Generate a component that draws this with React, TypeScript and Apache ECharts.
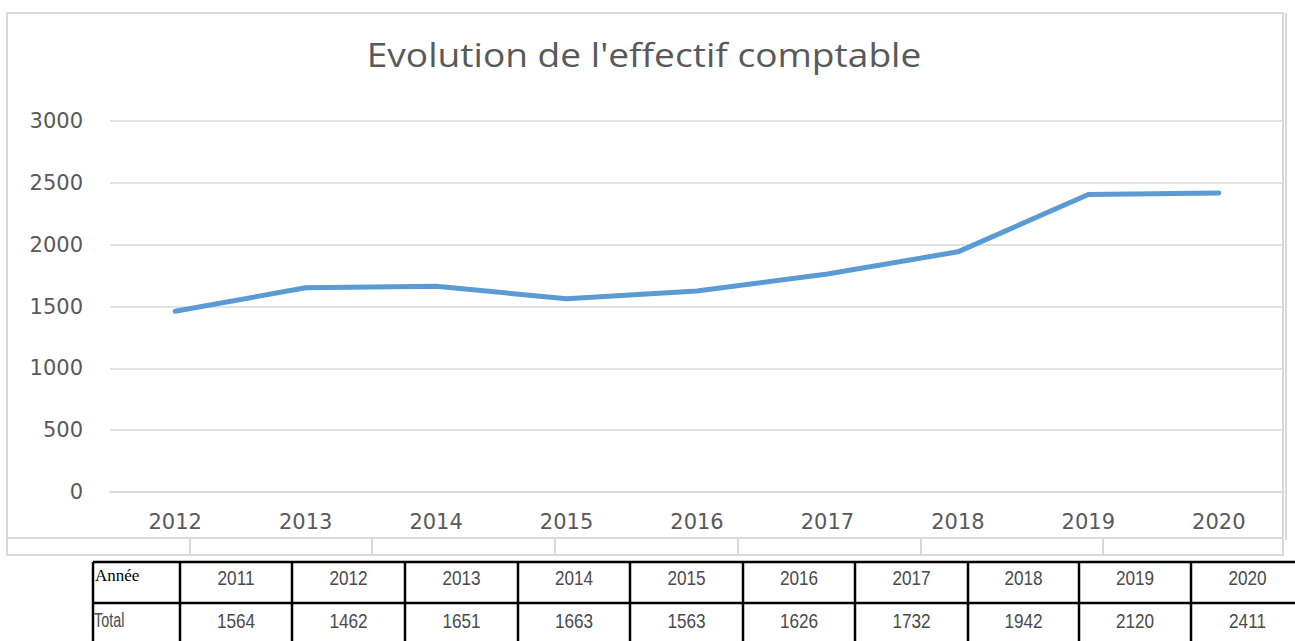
import React, { useEffect, useRef } from "react";
import * as echarts from "echarts";

const categories = ["2012", "2013", "2014", "2015", "2016", "2017", "2018", "2019", "2020"];
const effectif = [1462, 1651, 1663, 1563, 1626, 1763, 1942, 2405, 2418];
const yTicks = { min: 0, max: 3000, interval: 500 };

const tableYears = ["2011", "2012", "2013", "2014", "2015", "2016", "2017", "2018", "2019", "2020"];
const tableTotals = ["1564", "1462", "1651", "1663", "1563", "1626", "1732", "1942", "2120", "2411"];
const tableHeaders = ["Année", "Total"];
const titleText = "Evolution de l'effectif comptable";

const GRAY = "#595959";
const GRID = "#d9d9d9";

export default function App() {
  const ref = useRef<HTMLDivElement>(null);
  useEffect(() => {
    if (!ref.current) return;
    const chart = echarts.init(ref.current, undefined, { renderer: "svg" });

    const graphics: any[] = [];
    // title
    graphics.push({
      type: "text",
      x: 644,
      y: 39,
      scaleX: 1.16,
      style: {
        text: titleText,
        font: '32px "Open Sans", sans-serif',
        fill: GRAY,
        textAlign: "center",
        textVerticalAlign: "top",
      },
    });
    // chart frame
    graphics.push({
      type: "rect",
      shape: { x: 7, y: 13, width: 1276, height: 542 },
      style: { fill: "none", stroke: GRID, lineWidth: 2 },
      silent: true,
    });
    graphics.push({
      type: "line",
      shape: { x1: 1286, y1: 13, x2: 1286, y2: 540 },
      style: { stroke: GRID, lineWidth: 2 },
    });
    graphics.push({
      type: "line",
      shape: { x1: 7, y1: 538, x2: 1283, y2: 538 },
      style: { stroke: GRID, lineWidth: 2 },
    });
    [190, 372, 555, 738, 921, 1103].forEach((x) => {
      graphics.push({
        type: "line",
        shape: { x1: x, y1: 538, x2: x, y2: 555 },
        style: { stroke: GRID, lineWidth: 2 },
      });
    });

    // table
    const colX = [93, 180, 292, 405, 518, 630, 743, 855, 968, 1079, 1191, 1304];
    [562, 603].forEach((y) => {
      graphics.push({
        type: "line",
        shape: { x1: 93, y1: y, x2: 1295, y2: y },
        style: { stroke: "#000", lineWidth: 2.5 },
      });
    });
    colX.forEach((x) => {
      graphics.push({
        type: "line",
        shape: { x1: x, y1: 562, x2: x, y2: 641 },
        style: { stroke: "#000", lineWidth: 2.5 },
      });
    });
    graphics.push({
      type: "text",
      x: 95,
      y: 575,
      style: {
        text: tableHeaders[0],
        font: '17px "Liberation Serif", serif',
        fill: "#000",
        textAlign: "left",
        textVerticalAlign: "middle",
      },
    });
    graphics.push({
      type: "text",
      x: 94,
      y: 620,
      scaleX: 0.72,
      style: {
        text: tableHeaders[1],
        font: '20px "Liberation Sans", Arial, sans-serif',
        fill: "#4a4a4a",
        textAlign: "left",
        textVerticalAlign: "middle",
      },
    });
    tableYears.forEach((yr, i) => {
      const cx = (colX[i + 1] + colX[i + 2]) / 2;
      graphics.push({
        type: "text",
        x: cx,
        y: 578,
        scaleX: 0.86,
        style: {
          text: yr,
          font: '20px "Liberation Sans", Arial, sans-serif',
          fill: "#4a4a4a",
          textAlign: "center",
          textVerticalAlign: "middle",
        },
      });
      graphics.push({
        type: "text",
        x: cx,
        y: 621,
        scaleX: 0.86,
        style: {
          text: tableTotals[i],
          font: '20px "Liberation Sans", Arial, sans-serif',
          fill: "#4a4a4a",
          textAlign: "center",
          textVerticalAlign: "middle",
        },
      });
    });

    chart.setOption({
      animation: false,
      backgroundColor: "#fff",
      grid: { left: 110, right: 11, top: 121, bottom: 149, containLabel: false },
      xAxis: {
        type: "category",
        data: categories,
        boundaryGap: true,
        axisLine: { show: true, lineStyle: { color: GRID, width: 1.5 } },
        axisTick: { show: false },
        axisLabel: {
          color: GRAY,
          fontFamily: '"DejaVu Sans", sans-serif',
          fontSize: 21,
          margin: 19,
        },
      },
      yAxis: {
        type: "value",
        min: yTicks.min,
        max: yTicks.max,
        interval: yTicks.interval,
        axisLine: { show: false },
        axisTick: { show: false },
        splitLine: { lineStyle: { color: GRID, width: 1.5 } },
        axisLabel: {
          color: GRAY,
          fontFamily: '"DejaVu Sans", sans-serif',
          fontSize: 21,
          margin: 27,
          formatter: (v: number) => String(v),
        },
      },
      series: [
        {
          type: "line",
          data: effectif,
          symbol: "none",
          lineStyle: { color: "#5b9bd5", width: 5, cap: "round", join: "round" },
          itemStyle: { color: "#5b9bd5" },
        },
      ],
      graphic: graphics,
    });
    return () => chart.dispose();
  }, []);
  return (
    <div
      ref={ref}
      style={{ position: "fixed", left: 0, top: 0, width: 1295, height: 641 }}
    />
  );
}
